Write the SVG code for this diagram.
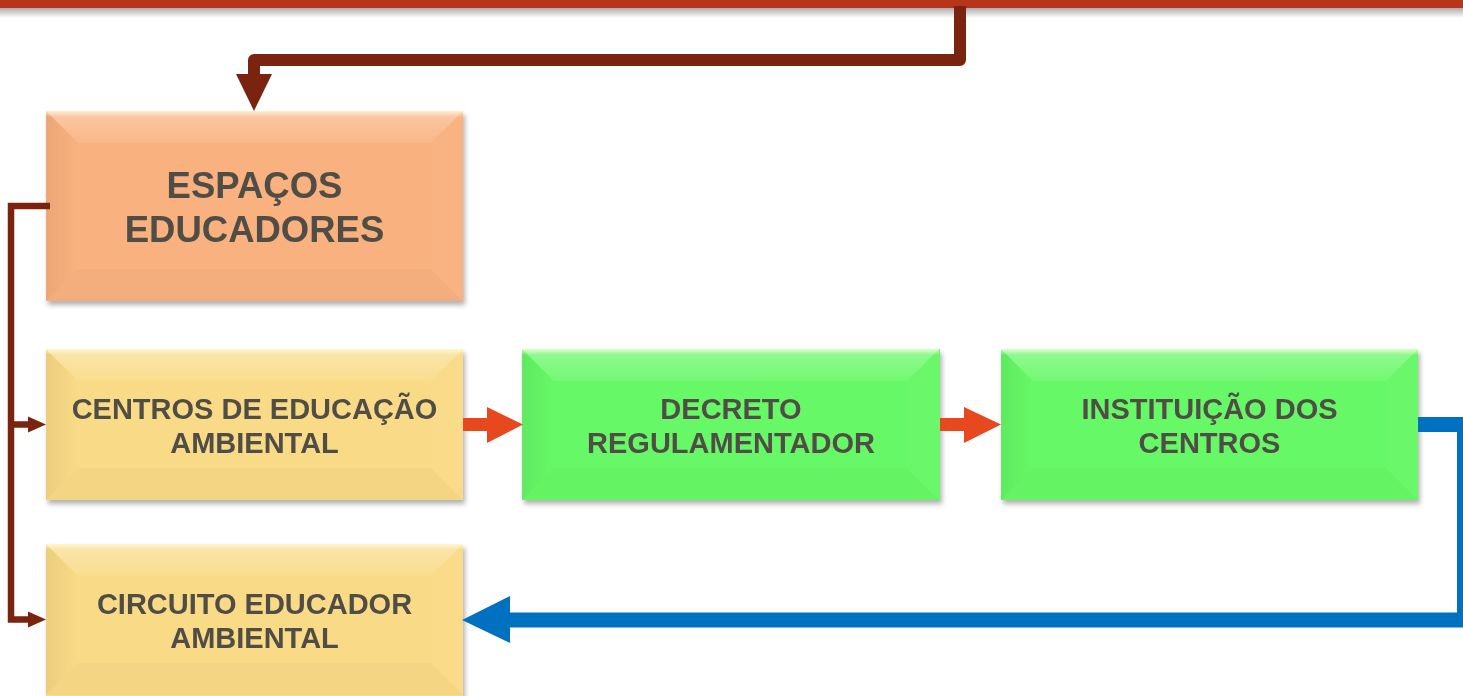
<svg xmlns="http://www.w3.org/2000/svg" width="1463" height="696" viewBox="0 0 1463 696">
  <defs>
    <style>
      .lbl { font-family: "Liberation Sans", Arial, sans-serif; font-weight: bold; fill: #4F4E45; text-anchor: middle; }
      .big { font-size: 36.5px; }
      .sm { font-size: 29px; }
      .peach { fill: #F9B17F; }
      .yellow { fill: #F9DA86; }
      .green { fill: #66F866; }
      .bt { fill: url(#topG); }
      .bl { fill: url(#leftG); }
      .bb { fill: #000; fill-opacity: 0.02; }
      .br { fill: #fff; fill-opacity: 0.03; }
      .hl { fill: url(#hiG); }
      .brown { fill: none; stroke: #7A2410; }
      .brownF { fill: #7A2410; }
      .orange { fill: #E8481E; }
      .blue { fill: none; stroke: #0070C0; stroke-width: 15; }
      .blueF { fill: #0070C0; }
    </style>
    <filter id="sh" x="-5%" y="-10%" width="115%" height="130%">
      <feDropShadow dx="2" dy="4" stdDeviation="2.5" flood-color="#000" flood-opacity="0.3"/>
    </filter>
    <linearGradient id="topG" x1="0" y1="0" x2="0" y2="1">
      <stop offset="0" stop-color="#fff" stop-opacity="0.3"/>
      <stop offset="1" stop-color="#fff" stop-opacity="0.08"/>
    </linearGradient>
    <linearGradient id="leftG" x1="0" y1="0" x2="1" y2="0">
      <stop offset="0" stop-color="#000" stop-opacity="0.06"/>
      <stop offset="1" stop-color="#000" stop-opacity="0.0"/>
    </linearGradient>
    <linearGradient id="hiG" x1="0" y1="0" x2="0" y2="1">
      <stop offset="0" stop-color="#FFFFE0" stop-opacity="0.7"/>
      <stop offset="1" stop-color="#FFFFE0" stop-opacity="0"/>
    </linearGradient>
    <linearGradient id="barSh" x1="0" y1="0" x2="0" y2="1">
      <stop offset="0" stop-color="#888" stop-opacity="0.7"/>
      <stop offset="1" stop-color="#888" stop-opacity="0"/>
    </linearGradient>
    <g id="bevel151">
      <polygon class="bt" points="0,0 417,0 385,32 32,32"/>
      <polygon class="bl" points="0,0 32,32 32,119 0,151"/>
      <polygon class="bb" points="0,151 32,119 385,119 417,151"/>
      <polygon class="br" points="417,0 417,151 385,119 385,32"/>
      <rect class="hl" x="0" y="0" width="417" height="6"/>
    </g>
    <g id="bevel190">
      <polygon class="bt" points="0,0 417,0 385,32 32,32"/>
      <polygon class="bl" points="0,0 32,32 32,158 0,190"/>
      <polygon class="bb" points="0,190 32,158 385,158 417,190"/>
      <polygon class="br" points="417,0 417,190 385,158 385,32"/>
      <rect class="hl" x="0" y="0" width="417" height="6"/>
    </g>
  </defs>

  <rect x="0" y="0" width="1463" height="696" fill="#fff"/>

  <g id="top-bar">
    <rect x="0" y="8" width="1463" height="10" fill="url(#barSh)"/>
    <rect x="0" y="-2" width="1463" height="10" fill="#B8351A"/>
  </g>

  <g id="node-espacos" filter="url(#sh)">
    <rect class="peach" x="46" y="111" width="417" height="190"/>
    <use href="#bevel190" x="46" y="111"/>
    <text class="lbl big" x="254.5" y="198">ESPAÇOS</text>
    <text class="lbl big" x="254.5" y="242">EDUCADORES</text>
  </g>

  <g id="node-centros" filter="url(#sh)">
    <rect class="yellow" x="46" y="349" width="417" height="151"/>
    <use href="#bevel151" x="46" y="349"/>
    <text class="lbl sm" x="254.5" y="418.5">CENTROS DE EDUCAÇÃO</text>
    <text class="lbl sm" x="254.5" y="452.5">AMBIENTAL</text>
  </g>

  <g id="node-decreto" filter="url(#sh)">
    <rect class="green" x="522" y="349" width="418" height="151"/>
    <use href="#bevel151" x="522" y="349"/>
    <text class="lbl sm" x="731" y="418.5">DECRETO</text>
    <text class="lbl sm" x="731" y="452.5">REGULAMENTADOR</text>
  </g>

  <g id="node-instituicao" filter="url(#sh)">
    <rect class="green" x="1001" y="349" width="417" height="151"/>
    <use href="#bevel151" x="1001" y="349"/>
    <text class="lbl sm" x="1209.5" y="418.5">INSTITUIÇÃO DOS</text>
    <text class="lbl sm" x="1209.5" y="452.5">CENTROS</text>
  </g>

  <g id="node-circuito" filter="url(#sh)">
    <rect class="yellow" x="46" y="544" width="417" height="160"/>
    <use href="#bevel151" x="46" y="544"/>
    <text class="lbl sm" x="254.5" y="613.5">CIRCUITO EDUCADOR</text>
    <text class="lbl sm" x="254.5" y="647.5">AMBIENTAL</text>
  </g>

  <g id="connectors">
    <path class="brown" stroke-width="12" stroke-linejoin="round" d="M960,6 V60 H254 V76"/>
    <polygon class="brownF" points="236,74 272,74 254,111"/>

    <path class="brown" stroke-width="6.5" d="M50,206 H11 V619.5 H30 M11,424.5 H30"/>
    <polygon class="brownF" points="28,416.5 46,424.5 28,432.5"/>
    <polygon class="brownF" points="28,611.5 46,619.5 28,627.5"/>

    <rect class="orange" x="463" y="418" width="26" height="13"/>
    <polygon class="orange" points="487,407 523,424.5 487,443"/>
    <rect class="orange" x="940" y="418" width="26" height="13"/>
    <polygon class="orange" points="964,407 1001,424.5 964,443"/>

    <path class="blue" d="M1418,424.5 H1464.5 V620 H508"/>
    <polygon class="blueF" points="510,596 462,620 510,643"/>
  </g>
</svg>
